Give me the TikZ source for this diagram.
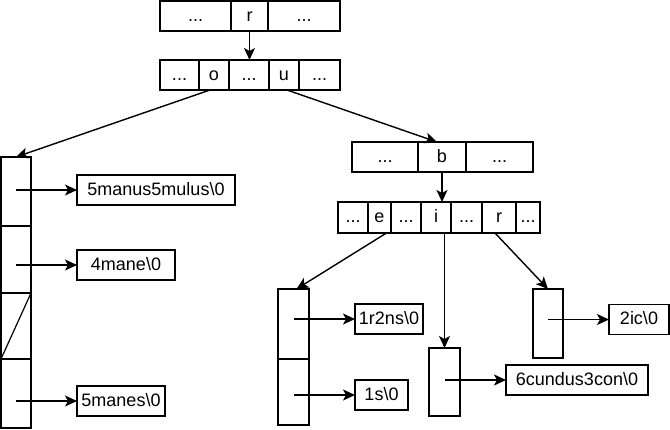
\documentclass[tikz,border=0pt]{standalone}
\usepackage{fontspec}
\setmainfont{Liberation Sans}
\usetikzlibrary{arrows.meta,positioning,calc}

\begin{document}
\begin{tikzpicture}[x=1pt,y=-1pt,
    cell/.style={draw, line width=1.2pt, inner sep=0pt, outer sep=0pt,
      minimum height=30pt, text height=12pt, text depth=2pt,
      font=\fontsize{18}{20}\selectfont},
    slot/.style={cell, minimum width=31pt},
    strbox/.style={cell, anchor=west},
    link/.style={line width=1.4pt, -{Stealth[length=12pt,width=11pt,inset=3pt]}}]
    \useasboundingbox (0,0) rectangle (670,429);

    % Root array
    \node[cell, minimum width=71pt] (rootA) at (195.5,16) {...};
    \node[cell, minimum width=37pt, right=0pt of rootA] (keyR) {r};
    \node[cell, minimum width=72pt, right=0pt of keyR] (rootB) {...};

    % Second array
    \node[cell, minimum width=39pt] (midA) at (179.5,75) {...};
    \node[cell, minimum width=30pt, right=0pt of midA] (keyO) {o};
    \node[cell, minimum width=40pt, right=0pt of keyO] (midB) {...};
    \node[cell, minimum width=30pt, right=0pt of midB] (keyU) {u};
    \node[cell, minimum width=41pt, right=0pt of keyU] (midC) {...};

    % Array of u
    \node[cell, minimum width=66pt] (uA) at (385,157) {...};
    \node[cell, minimum width=48pt, right=0pt of uA] (keyB) {b};
    \node[cell, minimum width=67pt, right=0pt of keyB] (uB) {...};

    % Array of b
    \node[cell, minimum width=30pt, minimum height=31pt] (bA) at (353,217.5) {...};
    \node[cell, minimum width=23pt, minimum height=31pt, right=0pt of bA] (keyE) {e};
    \node[cell, minimum width=30pt, minimum height=31pt, right=0pt of keyE] (bB) {...};
    \node[cell, minimum width=30pt, minimum height=31pt, right=0pt of bB] (keyI) {i};
    \node[cell, minimum width=31pt, minimum height=31pt, right=0pt of keyI] (bC) {...};
    \node[cell, minimum width=34pt, minimum height=31pt, right=0pt of bC] (keyRR) {r};
    \node[cell, minimum width=24pt, minimum height=31pt, right=0pt of keyRR] (bD) {...};

    % Column of o
    \node[slot, minimum width=30pt, minimum height=69pt] (oA) at (16,191.5) {};
    \node[slot, minimum width=30pt, minimum height=67pt, below=0pt of oA] (oB) {};
    \node[slot, minimum width=30pt, minimum height=66pt, below=0pt of oB] (oC) {};
    \node[slot, minimum width=30pt, minimum height=69pt, below=0pt of oC] (oD) {};
    \draw[line width=1.2pt] (oC.north east) -- (oC.south west);

    % Columns of e, i, r
    \node[slot, minimum height=70pt] (eA) at (293.5,324) {};
    \node[slot, minimum height=66pt, below=0pt of eA] (eB) {};
    \node[slot, minimum height=68pt] (iA) at (444.5,382) {};
    \node[slot, minimum width=30pt, minimum height=69pt] (rA) at (548,323.5) {};

    % Strings
    \node[strbox, minimum width=158pt] (strA) at (77,190) {5manus5mulus\textbackslash 0};
    \node[strbox, minimum width=98pt] (strB) at (77,265) {4mane\textbackslash 0};
    \node[strbox, minimum width=88pt] (strC) at (77,401) {5manes\textbackslash 0};
    \node[strbox, minimum width=68pt] (strD) at (355,319) {1r2ns\textbackslash 0};
    \node[strbox, minimum width=53pt] (strE) at (355,395) {1s\textbackslash 0};
    \node[strbox, minimum width=142pt] (strF) at (506,380) {6cundus3con\textbackslash 0};
    \node[strbox, minimum width=60pt] (strG) at (609,319.5) {2ic\textbackslash 0};

    % Links between arrays
    \draw[link] (keyR.south) -- (keyR.south |- midB.north);
    \draw[link] ([xshift=-4pt]keyO.south) -- (oA.north);
    \draw[link] ([xshift=3pt]keyU.south) -- ([xshift=-5pt]keyB.north);
    \draw[link] (keyB.south) -- (keyB.south |- keyI.north);
    \draw[link] ([xshift=7pt]keyE.south) -- ([xshift=3pt]eA.north);
    \draw[link] (iA.north |- keyI.south) -- (iA.north);
    \draw[link] ([xshift=-4pt]keyRR.south) -- (rA.north);

    % Links to strings
    \draw[link] (oA.center |- strA.west) -- (strA.west);
    \draw[link] (oB.center |- strB.west) -- (strB.west);
    \draw[link] (oD.center |- strC.west) -- (strC.west);
    \draw[link] (eA.center |- strD.west) -- (strD.west);
    \draw[link] (eB.center |- strE.west) -- (strE.west);
    \draw[link] (iA.center |- strF.west) -- (strF.west);
    \draw[link] (rA.center |- strG.west) -- (strG.west);
\end{tikzpicture}
\end{document}
